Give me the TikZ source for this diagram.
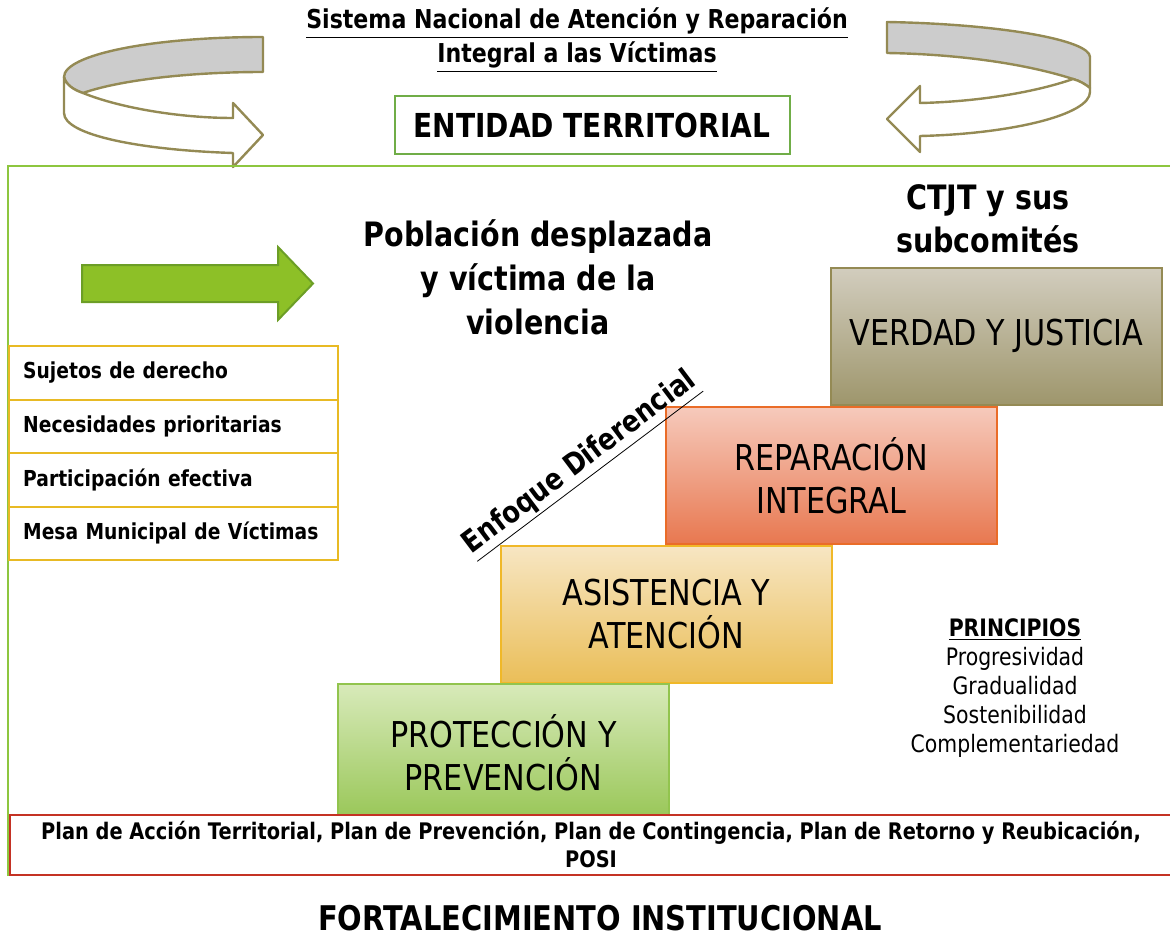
\documentclass[tikz,border=0pt]{standalone}
\usepackage{fontspec}
\setmainfont{DejaVu Sans}[FakeStretch=0.85]
\usetikzlibrary{positioning}
\definecolor{framegreen}{RGB}{141,198,63}
\definecolor{boxgreen}{RGB}{112,173,71}
\definecolor{ribbonline}{RGB}{148,138,84}
\definecolor{ribbongray}{RGB}{204,204,204}
\definecolor{listgold}{RGB}{232,186,36}
\definecolor{planred}{RGB}{196,50,36}
\definecolor{arrowfill}{RGB}{141,192,39}
\definecolor{arrowline}{RGB}{108,158,38}
\tikzstyle{ribbon} = [draw=ribbonline,line width=1.2pt,line join=round]
\tikzstyle{stepbox} = [draw,line width=0.8pt,anchor=north west,minimum width=165.5pt,minimum height=68.5pt,align=center,font=\fontsize{17.8}{21.5}\selectfont]
\tikzstyle{listbox} = [draw=listgold,line width=1.2pt,anchor=north west,text width=150.5pt,inner xsep=7pt,minimum height=26.75pt,align=left,font=\fontsize{11}{13}\selectfont\bfseries]
\tikzstyle{headtext} = [align=center,font=\fontsize{16.8}{22}\selectfont\bfseries]

\begin{document}
\begin{tikzpicture}[x=0.5pt,y=-0.5pt]
    \useasboundingbox (0,0) rectangle (1170,936);
    % turning ribbons
    \draw [ribbon,fill=ribbongray] (263,37) .. controls (150,37) and (64,55) .. (64,77) .. controls (66,85) and (74,90) .. (83,93) .. controls (120,80) and (190,72) .. (263,72) -- cycle;
    \draw [ribbon,fill=white] (83,93) .. controls (120,108) and (180,118) .. (233,118) -- (233,103) -- (263,135) -- (233,167) -- (233,153) .. controls (140,150) and (64,135) .. (64,113) -- (64,77) .. controls (66,85) and (74,90) .. cycle;
    \draw [ribbon,fill=ribbongray] (887,22) .. controls (1000,24) and (1090,40) .. (1090,57) -- (1090,88) .. controls (1085,84) and (1080,81) .. (1073,79) .. controls (1020,62) and (950,54) .. (887,53) -- cycle;
    \draw [ribbon,fill=white] (1073,79) .. controls (1030,94) and (970,102) .. (920,103) -- (920,86) -- (887,119) -- (920,152) -- (920,136) .. controls (1010,134) and (1090,115) .. (1090,92) -- (1090,88) .. controls (1085,84) and (1080,81) .. cycle;

    \node [align=center,font=\fontsize{13}{17}\selectfont\bfseries] (title) at (577,40) {\underline{Sistema Nacional de Atención y Reparación}\\\underline{Integral a las Víctimas}};
    \node [draw=boxgreen,line width=1pt,minimum width=197.5pt,minimum height=29pt,font=\fontsize{16.5}{20}\selectfont\bfseries] (entidad) at (592,125) {ENTIDAD TERRITORIAL};
    \draw [framegreen,line width=1.2pt] (8,876) -- (8,166) -- (1172,166);

    \draw [arrowline,fill=arrowfill,line width=1pt] (82,265) -- (278,265) -- (278,247) -- (313,283.5) -- (278,320) -- (278,302) -- (82,302) -- cycle;
    \node [headtext] (poblacion) at (538,277) {Población desplazada\\y víctima de la\\violencia};
    \node [headtext,font=\fontsize{16.8}{21.5}\selectfont\bfseries] (ctjt) at (988,219) {CTJT y sus\\subcomités};

    \foreach \txt [count=\i] in {Sujetos de derecho,Necesidades prioritarias,Participación efectiva,Mesa Municipal de Víctimas}
      \node [listbox] (item\i) at (8,{345+53.5*(\i-1)}) {\txt};

    % steps
    \node [stepbox,draw=ribbonline,top color={rgb,255:red,210;green,205;blue,190},bottom color={rgb,255:red,158;green,150;blue,108}] (verdad) at (830,267) {VERDAD Y JUSTICIA};
    \node [stepbox,draw={rgb,255:red,234;green,108;blue,40},top color={rgb,255:red,246;green,202;blue,188},bottom color={rgb,255:red,232;green,120;blue,80}] (reparacion) at (665,406) {REPARACIÓN\\INTEGRAL};
    \node [stepbox,draw={rgb,255:red,240;green,184;blue,40},top color={rgb,255:red,247;green,230;blue,195},bottom color={rgb,255:red,234;green,190;blue,88}] (asistencia) at (500,545) {ASISTENCIA Y\\ATENCIÓN};
    \node [stepbox,draw={rgb,255:red,146;green,196;blue,78},top color={rgb,255:red,216;green,234;blue,186},bottom color={rgb,255:red,152;green,198;blue,86}] (proteccion) at (337,683) {PROTECCIÓN Y\\PREVENCIÓN};

    \node [rotate=37,font=\fontsize{15}{17}\selectfont\bfseries] (enfoque) at (581,464) {\underline{Enfoque Diferencial}};
    \node [align=center,font=\fontsize{12}{14.5}\selectfont] (principios) at (1015,688) {\textbf{\underline{PRINCIPIOS}}\\Progresividad\\Gradualidad\\Sostenibilidad\\Complementariedad};

    \node [draw=planred,line width=1.2pt,fill=white,minimum width=581pt,minimum height=30pt,inner sep=0pt,align=center,font=\fontsize{11.4}{14}\selectfont\bfseries] (plan) at (591,845) {Plan de Acción Territorial, Plan de Prevención, Plan de Contingencia, Plan de Retorno y Reubicación,\\POSI};
    \node [font=\fontsize{17}{20}\selectfont\bfseries] (fortalecimiento) at (600,918) {FORTALECIMIENTO INSTITUCIONAL};
\end{tikzpicture}
\end{document}
